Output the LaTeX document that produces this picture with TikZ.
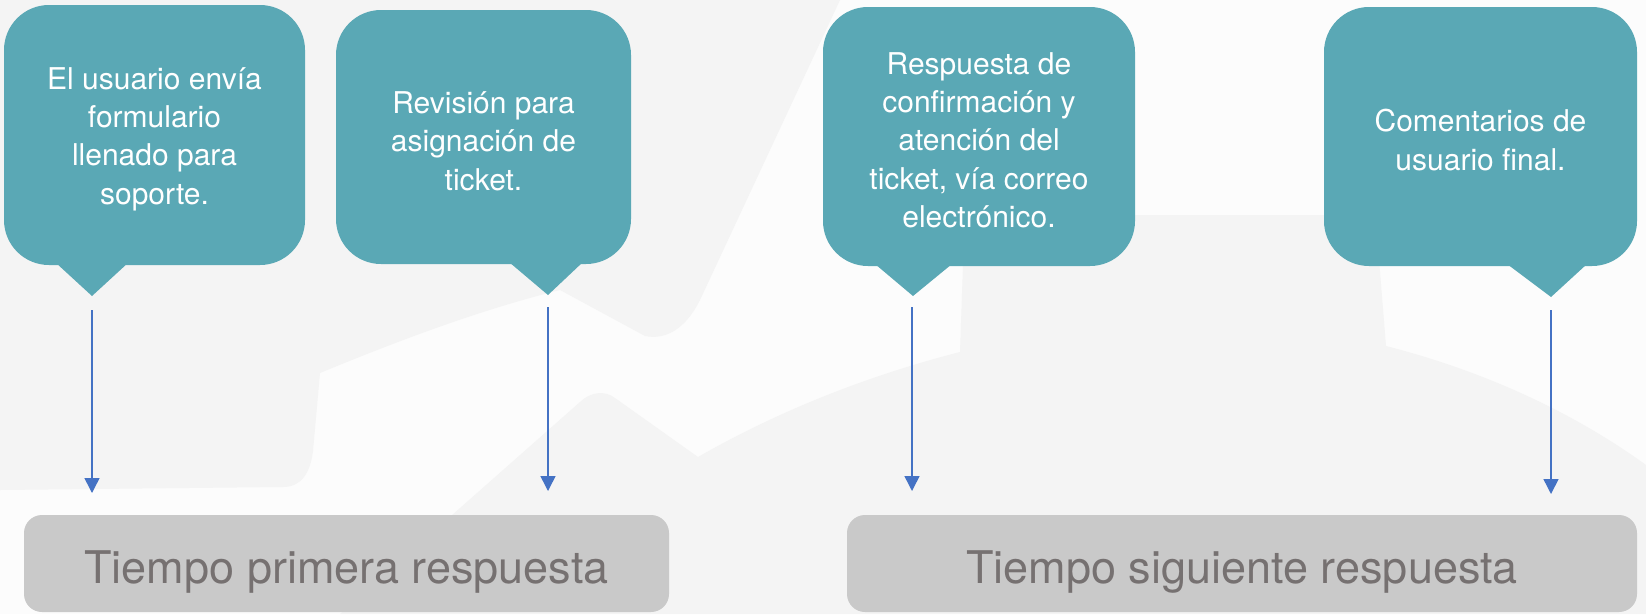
\documentclass[tikz,border=0pt]{standalone}
\usepackage{fontspec}
\setmainfont{TeX Gyre Heros}
\usetikzlibrary{arrows.meta}
\definecolor{tealbox}{HTML}{5AA8B5}
\definecolor{bggray}{HTML}{F4F4F4}
\definecolor{bgwhite}{HTML}{FCFCFC}
\definecolor{arrblue}{HTML}{4472C4}
\definecolor{boxgray}{HTML}{C9C9C9}
\definecolor{txtgray}{HTML}{767171}
\begin{document}
\begin{tikzpicture}[x=1pt,y=-1pt,
  callbody/.style={fill=tealbox, rounded corners=45pt},
  calltext/.style={inner sep=0pt, text=white, align=center,
    font=\fontsize{30}{38.3}\selectfont},
  pointer/.style={fill=tealbox},
  arr/.style={draw=arrblue, line width=1.5pt, -{Triangle[width=15pt,length=15pt]}},
  timebox/.style={fill=boxgray, rounded corners=18pt, inner sep=0pt, text=txtgray,
    minimum height=97pt, text height=49pt, text depth=10pt,
    font=\fontsize{45}{54}\selectfont}]
\path[use as bounding box] (0,0) rectangle (1646,614);
% background
\fill[bgwhite] (0,0) rectangle (1646,614);
\fill[bggray] (0,0) -- (840,0) -- (700,300) .. controls (685,330) and (665,340) .. (645,336)
  -- (560,290) .. controls (480,310) and (400,340) .. (320,373) -- (313,451)
  .. controls (310,475) and (300,487) .. (283,487) -- (0,490) -- cycle;
\fill[bggray] (340,614) -- (580,402) .. controls (590,392) and (605,390) .. (615,398)
  -- (698,457) .. controls (780,410) and (870,375) .. (960,352) -- (964,235)
  .. controls (965,220) and (972,215) .. (985,215) -- (1355,215)
  .. controls (1370,215) and (1376,222) .. (1377,235) -- (1386,346)
  .. controls (1480,370) and (1570,410) .. (1646,465) -- (1646,614) -- cycle;
% callout bodies and pointers
\fill[callbody] (4,5) rectangle (305,265);
\fill[callbody] (336,10) rectangle (631,264);
\fill[callbody] (823,7) rectangle (1135,266);
\fill[callbody] (1324,7) rectangle (1637,266);
\fill[pointer] (55,262) -- (92,296) -- (129,262) -- cycle;
\fill[pointer] (509,262) -- (548,295) -- (583,262) -- cycle;
\fill[pointer] (875,264) -- (913,296) -- (952,264) -- cycle;
\fill[pointer] (1507,264) -- (1551,297) -- (1587,264) -- cycle;
% callout texts
\node[calltext] (c1) at (154.5,139)
  {El usuario envía\\formulario\\llenado para\\soporte.};
\node[calltext] (c2) at (483.5,141)
  {Revisión para\\asignación de\\ticket.};
\node[calltext] (c3) at (979,140)
  {Respuesta de\\confirmación y\\atención del\\ticket, vía correo\\electrónico.};
\node[calltext] (c4) at (1480.5,140)
  {Comentarios de\\usuario final.};
% bottom boxes
\node[timebox, minimum width=645pt] (t1) at (346.5,563.5) {Tiempo primera respuesta};
\node[timebox, minimum width=790pt] (t2) at (1242,563.5) {Tiempo siguiente respuesta};
% arrows
\coordinate (s1) at (92,310);   \coordinate (e1) at (92,493);
\coordinate (s2) at (548,307);  \coordinate (e2) at (548,491);
\coordinate (s3) at (912,307);  \coordinate (e3) at (912,491);
\coordinate (s4) at (1551,310); \coordinate (e4) at (1551,494);
\draw[arr] (s1) -- (e1);
\draw[arr] (s2) -- (e2);
\draw[arr] (s3) -- (e3);
\draw[arr] (s4) -- (e4);
\end{tikzpicture}
\end{document}
